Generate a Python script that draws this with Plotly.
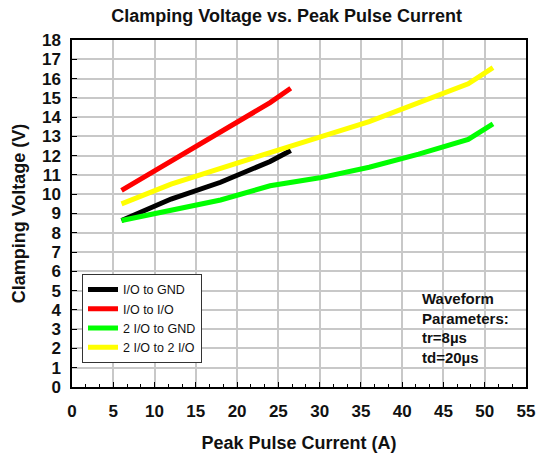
import plotly.graph_objects as go

# Data
io_gnd_x = [6, 12, 18, 24, 26.5]
io_gnd_y = [8.64, 9.75, 10.62, 11.7, 12.27]

io_io_x = [6, 12, 18, 24, 26.5]
io_io_y = [10.2, 11.7, 13.2, 14.75, 15.5]

io2_gnd_x = [6, 12, 18, 24, 30, 36, 42, 48, 51]
io2_gnd_y = [8.64, 9.14, 9.7, 10.44, 10.85, 11.4, 12.08, 12.84, 13.65]

io2_io2_x = [6, 12, 24, 36, 48, 51]
io2_io2_y = [9.5, 10.52, 12.16, 13.77, 15.73, 16.57]

series = [
    ("I/O to GND", io_gnd_x, io_gnd_y, "#000000"),
    ("I/O to I/O", io_io_x, io_io_y, "#ff0000"),
    ("2 I/O to GND", io2_gnd_x, io2_gnd_y, "#00ff00"),
    ("2 I/O to 2 I/O", io2_io2_x, io2_io2_y, "#ffff00"),
]

FONT = "Liberation Sans, Arial, sans-serif"

fig = go.Figure()
for name, xs, ys, col in series:
    fig.add_trace(go.Scatter(x=xs, y=ys, mode="lines", name=name,
                             line=dict(color=col, width=5)))

fig.update_layout(
    width=546, height=456,
    margin=dict(l=72, r=20, t=40, b=69, autoexpand=False),
    paper_bgcolor="white", plot_bgcolor="white",
    font=dict(family=FONT, color="black"),
    title=dict(text="<b>Clamping Voltage vs. Peak Pulse Current</b>",
               x=0.525, xanchor="center", y=0.966, yanchor="middle",
               font=dict(size=18, family=FONT, color="#111")),
    showlegend=True,
    legend=dict(x=0.022, y=0.326, xanchor="left", yanchor="top",
                bgcolor="white", bordercolor="#333", borderwidth=1,
                font=dict(size=12.5, family=FONT, color="#111"),
                tracegroupgap=0, itemwidth=30),
    annotations=[dict(
        text="<b>Waveform<br>Parameters:<br>tr=8µs<br>td=20µs</b>",
        xref="paper", yref="paper", x=0.767, y=0.284,
        xanchor="left", yanchor="top", align="left", showarrow=False,
        font=dict(size=15, family=FONT, color="#111"))],
)

fig.update_xaxes(
    range=[0, 55], dtick=5, tick0=0, automargin=False,
    showgrid=True, gridcolor="#c8c8c8", gridwidth=1.5,
    showline=True, linecolor="black", linewidth=1.5, mirror=True,
    ticks="inside", ticklen=5, tickcolor="black",
    minor=dict(dtick=5/3, tick0=0, ticks="inside", ticklen=3, tickcolor="black", showgrid=False),
    tickfont=dict(size=17, family=FONT, color="#111", weight="bold"),
    ticklabelstandoff=8,
    zeroline=False,
    title=dict(text="<b>Peak Pulse Current (A)</b>", font=dict(size=18, family=FONT, color="#111"), standoff=16),
)
fig.update_yaxes(
    range=[0, 18], dtick=1, tick0=0, automargin=False,
    showgrid=True, gridcolor="#c8c8c8", gridwidth=1.5,
    showline=True, linecolor="black", linewidth=1.5, mirror=True,
    ticks="inside", ticklen=5, tickcolor="black",
    tickfont=dict(size=17, family=FONT, color="#111", weight="bold"),
    ticklabelstandoff=6,
    zeroline=False,
    title=dict(text="<b>Clamping Voltage (V)</b>", font=dict(size=18, family=FONT, color="#111"), standoff=12),
)

# remove the page's default 8px body margin so the figure fills the window
fig.write_html("out.html", config={"displayModeBar": False},
               post_script="document.body.style.margin='0';")
